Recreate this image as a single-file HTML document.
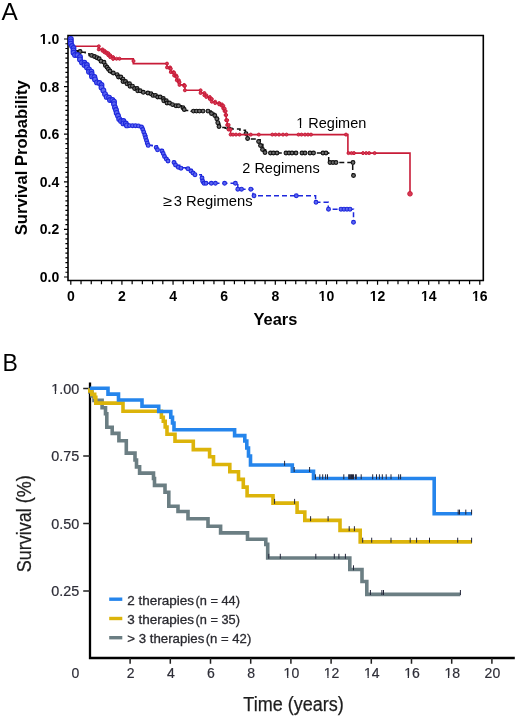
<!DOCTYPE html>
<html><head><meta charset="utf-8"><style>
html,body{margin:0;padding:0;background:#fff;}
svg{display:block;will-change:transform;}
text{font-family:"Liberation Sans",sans-serif;}
</style></head><body>
<svg width="520" height="718" viewBox="0 0 520 718">
<defs><clipPath id="nofoot" clip-rule="evenodd"><path clip-rule="evenodd" d="M0 0 H520 V718 H0 Z M39.82 40.87 H42.99 V45.10 H39.82 Z M44.95 40.87 H47.93 V45.10 H44.95 Z M318.70 297.77 H321.86 V302.00 H318.70 Z M323.82 297.77 H326.81 V302.00 H323.82 Z M369.90 297.77 H373.06 V302.00 H369.90 Z M375.02 297.77 H378.01 V302.00 H375.02 Z M421.00 297.77 H424.16 V302.00 H421.00 Z M426.12 297.77 H429.11 V302.00 H426.12 Z M472.10 297.77 H475.26 V302.00 H472.10 Z M477.22 297.77 H480.21 V302.00 H477.22 Z M296.50 125.62 H299.83 V129.50 H296.50 Z M301.15 125.62 H304.36 V129.50 H301.15 Z M51.47 391.02 H54.77 V394.90 H51.47 Z M56.09 391.02 H59.28 V394.90 H56.09 Z M283.88 675.75 H287.11 V679.60 H283.88 Z M288.39 675.75 H291.52 V679.60 H288.39 Z M324.08 675.75 H327.31 V679.60 H324.08 Z M328.59 675.75 H331.72 V679.60 H328.59 Z M364.28 675.75 H367.51 V679.60 H364.28 Z M368.79 675.75 H371.92 V679.60 H368.79 Z M404.48 675.75 H407.71 V679.60 H404.48 Z M408.99 675.75 H412.12 V679.60 H408.99 Z M444.68 675.75 H447.91 V679.60 H444.68 Z M449.19 675.75 H452.32 V679.60 H449.19 Z"/></clipPath></defs>
<rect width="520" height="718" fill="#fff"/>
<text x="1.6" y="19.8" font-size="23" fill="#000" textLength="16.3" lengthAdjust="spacingAndGlyphs">A</text>
<path d="M68 35.5 H483.3 V280.5 H68 Z" fill="none" stroke="#000" stroke-width="1.6"/>
<path d="M64 277.00 H68 M65.4 272.24 H68 M65.4 267.48 H68 M65.4 262.72 H68 M65.4 257.96 H68 M65.4 253.20 H68 M65.4 248.44 H68 M65.4 243.68 H68 M65.4 238.92 H68 M65.4 234.16 H68 M64 229.40 H68 M65.4 224.64 H68 M65.4 219.88 H68 M65.4 215.12 H68 M65.4 210.36 H68 M65.4 205.60 H68 M65.4 200.84 H68 M65.4 196.08 H68 M65.4 191.32 H68 M65.4 186.56 H68 M64 181.80 H68 M65.4 177.04 H68 M65.4 172.28 H68 M65.4 167.52 H68 M65.4 162.76 H68 M65.4 158.00 H68 M65.4 153.24 H68 M65.4 148.48 H68 M65.4 143.72 H68 M65.4 138.96 H68 M64 134.20 H68 M65.4 129.44 H68 M65.4 124.68 H68 M65.4 119.92 H68 M65.4 115.16 H68 M65.4 110.40 H68 M65.4 105.64 H68 M65.4 100.88 H68 M65.4 96.12 H68 M65.4 91.36 H68 M64 86.60 H68 M65.4 81.84 H68 M65.4 77.08 H68 M65.4 72.32 H68 M65.4 67.56 H68 M65.4 62.80 H68 M65.4 58.04 H68 M65.4 53.28 H68 M65.4 48.52 H68 M65.4 43.76 H68 M64 39.00 H68 M70.80 280.5 V284.8 M81.03 280.5 V284.2 M91.25 280.5 V284.2 M101.47 280.5 V284.2 M111.70 280.5 V284.2 M121.92 280.5 V284.8 M132.15 280.5 V284.2 M142.38 280.5 V284.2 M152.60 280.5 V284.2 M162.82 280.5 V284.2 M173.05 280.5 V284.8 M183.28 280.5 V284.2 M193.50 280.5 V284.2 M203.73 280.5 V284.2 M213.95 280.5 V284.2 M224.18 280.5 V284.8 M234.40 280.5 V284.2 M244.62 280.5 V284.2 M254.85 280.5 V284.2 M265.07 280.5 V284.2 M275.30 280.5 V284.8 M285.53 280.5 V284.2 M295.75 280.5 V284.2 M305.98 280.5 V284.2 M316.20 280.5 V284.2 M326.43 280.5 V284.8 M336.65 280.5 V284.2 M346.88 280.5 V284.2 M357.10 280.5 V284.2 M367.33 280.5 V284.2 M377.55 280.5 V284.8 M387.78 280.5 V284.2 M398.00 280.5 V284.2 M408.23 280.5 V284.2 M418.45 280.5 V284.2 M428.68 280.5 V284.8 M438.90 280.5 V284.2 M449.13 280.5 V284.2 M459.35 280.5 V284.2 M469.58 280.5 V284.2 M479.80 280.5 V284.8" stroke="#000" stroke-width="1.2" fill="none"/>
<text x="59.2" y="281.9" font-size="14" font-weight="bold" text-anchor="end">0.0</text>
<text x="59.2" y="234.3" font-size="14" font-weight="bold" text-anchor="end">0.2</text>
<text x="59.2" y="186.7" font-size="14" font-weight="bold" text-anchor="end">0.4</text>
<text x="59.2" y="139.1" font-size="14" font-weight="bold" text-anchor="end">0.6</text>
<text x="59.2" y="91.5" font-size="14" font-weight="bold" text-anchor="end">0.8</text>
<text x="59.2" y="43.9" font-size="14" font-weight="bold" text-anchor="end" clip-path="url(#nofoot)">1.0</text>
<text x="70.8" y="300.8" font-size="14" font-weight="bold" text-anchor="middle">0</text>
<text x="121.9" y="300.8" font-size="14" font-weight="bold" text-anchor="middle">2</text>
<text x="173.1" y="300.8" font-size="14" font-weight="bold" text-anchor="middle">4</text>
<text x="224.2" y="300.8" font-size="14" font-weight="bold" text-anchor="middle">6</text>
<text x="275.3" y="300.8" font-size="14" font-weight="bold" text-anchor="middle">8</text>
<text x="326.4" y="300.8" font-size="14" font-weight="bold" text-anchor="middle" clip-path="url(#nofoot)">10</text>
<text x="377.6" y="300.8" font-size="14" font-weight="bold" text-anchor="middle" clip-path="url(#nofoot)">12</text>
<text x="428.7" y="300.8" font-size="14" font-weight="bold" text-anchor="middle" clip-path="url(#nofoot)">14</text>
<text x="479.8" y="300.8" font-size="14" font-weight="bold" text-anchor="middle" clip-path="url(#nofoot)">16</text>
<text x="275.4" y="325" font-size="16.4" font-weight="bold" text-anchor="middle">Years</text>
<text transform="translate(26.7 157.75) rotate(-90)" x="0" y="0" font-size="16.6" font-weight="bold" text-anchor="middle">Survival Probability</text>
<text x="296.2" y="128.3" font-size="14.5" clip-path="url(#nofoot)">1 Regimen</text>
<text x="242.3" y="173.2" font-size="14.5">2 Regimens</text>
<text x="163.2" y="205.8" font-size="14.5" textLength="9" lengthAdjust="spacingAndGlyphs">≥</text>
<text x="173.8" y="205.8" font-size="14.5" textLength="78.8" lengthAdjust="spacingAndGlyphs">3 Regimens</text>
<path d="M70.8,39.0 L71.5,39.0 L71.5,44.0 L73.0,44.0 L73.0,48.0 L74.5,48.0 L74.5,50.8 L77.5,50.8 L77.5,51.5 L80.4,51.5 L80.4,52.3 L85.2,52.3 L85.2,53.7 L89.1,53.7 L89.1,55.4 L92.0,55.4 L92.0,56.5 L94.6,56.5 L94.6,57.7 L97.0,57.7 L97.0,58.8 L99.2,58.8 L99.2,60.0 L101.0,60.0 L101.0,61.2 L102.3,61.2 L102.3,62.3 L104.0,62.3 L104.0,63.8 L105.4,63.8 L105.4,65.4 L107.0,65.4 L107.0,67.3 L108.5,67.3 L108.5,69.2 L110.0,69.2 L110.0,71.0 L110.8,71.0 L110.8,73.0 L114.6,73.0 L114.6,74.6 L118.5,74.6 L118.5,77.0 L120.8,77.0 L120.8,79.2 L123.0,79.2 L123.0,81.5 L127.0,81.5 L127.0,83.8 L130.0,83.8 L130.0,86.2 L134.6,86.2 L134.6,88.5 L137.7,88.5 L137.7,90.8 L140.8,90.8 L140.8,92.3 L145.4,92.3 L145.4,93.0 L148.5,93.0 L148.5,93.8 L153.0,93.8 L153.0,95.4 L157.7,95.4 L157.7,97.0 L160.8,97.0 L160.8,98.5 L163.8,98.5 L163.8,100.8 L167.0,100.8 L167.0,103.0 L170.0,103.0 L170.0,104.6 L173.5,104.6 L173.5,105.8 L181.5,105.8 L181.5,107.8 L184.2,107.8 L184.2,110.5 L191.0,110.5 L191.0,111.1 L211.1,111.1 L211.1,113.2 L214.4,113.2 L214.4,114.8 L217.1,114.8 L217.1,118.8 L218.5,118.8 L218.5,123.6 L219.8,123.6 L219.8,127.6 L225.2,127.6 L225.2,128.3 L231.9,128.3 L231.9,128.9 L240.0,128.9 L240.0,130.3 L245.4,130.3 L245.4,133.6 L247.4,133.6 L247.4,139.0 L258.8,139.0 L258.8,139.7 L260.2,139.7 L260.2,144.4 L262.9,144.4 L262.9,149.8 L265.6,149.8 L265.6,153.0 L328.7,153.0 L328.7,162.5 L352.7,162.5 L352.7,175.5" fill="none" stroke="#111" stroke-width="1.5" stroke-dasharray="5 3"/>
<g fill="#6e6e6e" stroke="#111" stroke-width="1.1"><circle cx="80.1" cy="51.5" r="1.9"/><circle cx="91.6" cy="55.4" r="1.9"/><circle cx="94.5" cy="56.5" r="1.9"/><circle cx="97.0" cy="57.7" r="1.9"/><circle cx="99.2" cy="58.8" r="1.9"/><circle cx="101.0" cy="61.2" r="1.9"/><circle cx="104.0" cy="62.3" r="1.9"/><circle cx="105.4" cy="65.4" r="1.9"/><circle cx="107.0" cy="67.3" r="1.9"/><circle cx="108.5" cy="69.2" r="1.9"/><circle cx="110.0" cy="71.0" r="1.9"/><circle cx="113.3" cy="73.0" r="1.9"/><circle cx="117.1" cy="74.6" r="1.9"/><circle cx="118.5" cy="77.0" r="1.9"/><circle cx="120.8" cy="77.0" r="1.9"/><circle cx="123.0" cy="79.2" r="1.9"/><circle cx="123.0" cy="81.5" r="1.9"/><circle cx="125.5" cy="81.5" r="1.9"/><circle cx="127.0" cy="83.8" r="1.9"/><circle cx="129.5" cy="83.8" r="1.9"/><circle cx="130.0" cy="86.2" r="1.9"/><circle cx="132.5" cy="86.2" r="1.9"/><circle cx="134.6" cy="88.5" r="1.9"/><circle cx="137.1" cy="88.5" r="1.9"/><circle cx="137.7" cy="90.8" r="1.9"/><circle cx="140.2" cy="90.8" r="1.9"/><circle cx="143.3" cy="92.3" r="1.9"/><circle cx="147.9" cy="93.0" r="1.9"/><circle cx="151.0" cy="93.8" r="1.9"/><circle cx="153.0" cy="95.4" r="1.9"/><circle cx="155.5" cy="95.4" r="1.9"/><circle cx="157.7" cy="97.0" r="1.9"/><circle cx="160.2" cy="97.0" r="1.9"/><circle cx="163.3" cy="98.5" r="1.9"/><circle cx="163.8" cy="100.8" r="1.9"/><circle cx="166.3" cy="100.8" r="1.9"/><circle cx="167.0" cy="103.0" r="1.9"/><circle cx="169.5" cy="103.0" r="1.9"/><circle cx="172.5" cy="104.6" r="1.9"/><circle cx="176.0" cy="105.8" r="1.9"/><circle cx="178.5" cy="105.8" r="1.9"/><circle cx="183.0" cy="107.8" r="1.9"/><circle cx="184.2" cy="109.5" r="1.9"/><circle cx="193.5" cy="111.1" r="1.9"/><circle cx="196.5" cy="111.1" r="1.9"/><circle cx="199.5" cy="111.1" r="1.9"/><circle cx="203.0" cy="111.1" r="1.9"/><circle cx="208.0" cy="111.1" r="1.9"/><circle cx="211.5" cy="113.5" r="1.9"/><circle cx="214.8" cy="115.5" r="1.9"/><circle cx="216.8" cy="118.8" r="1.9"/><circle cx="217.8" cy="122.7" r="1.9"/><circle cx="219.0" cy="126.5" r="1.9"/><circle cx="228.8" cy="128.6" r="1.9"/><circle cx="246.0" cy="133.6" r="1.9"/><circle cx="247.6" cy="138.5" r="1.9"/><circle cx="258.6" cy="141.5" r="1.9"/><circle cx="260.5" cy="145.5" r="1.9"/><circle cx="262.5" cy="149.5" r="1.9"/><circle cx="265.0" cy="152.5" r="1.9"/><circle cx="270.5" cy="153.0" r="1.9"/><circle cx="273.5" cy="153.0" r="1.9"/><circle cx="277.0" cy="153.0" r="1.9"/><circle cx="286.0" cy="153.0" r="1.9"/><circle cx="289.0" cy="153.0" r="1.9"/><circle cx="292.0" cy="153.0" r="1.9"/><circle cx="296.0" cy="153.0" r="1.9"/><circle cx="302.0" cy="153.0" r="1.9"/><circle cx="305.0" cy="153.0" r="1.9"/><circle cx="310.0" cy="153.0" r="1.9"/><circle cx="313.5" cy="153.0" r="1.9"/><circle cx="323.0" cy="153.0" r="1.9"/><circle cx="326.0" cy="153.0" r="1.9"/><circle cx="330.0" cy="162.5" r="1.9"/><circle cx="333.0" cy="162.5" r="1.9"/><circle cx="336.0" cy="162.5" r="1.9"/><circle cx="353.0" cy="162.5" r="1.9"/><circle cx="353.5" cy="175.5" r="1.9"/></g>
<path d="M70.8,39.0 L72.5,39.0 L72.5,46.3 L98.8,46.3 L98.8,49.4 L102.5,49.4 L102.5,50.8 L104.5,50.8 L104.5,52.3 L106.4,52.3 L106.4,53.2 L108.3,53.2 L108.3,55.2 L110.2,55.2 L110.2,57.1 L113.1,57.1 L113.1,58.9 L133.3,58.9 L133.3,63.6 L167.0,63.6 L167.0,67.4 L170.1,67.4 L170.1,68.7 L170.8,68.7 L170.8,72.1 L173.5,72.1 L173.5,72.8 L174.1,72.8 L174.1,75.5 L176.2,75.5 L176.2,76.8 L176.8,76.8 L176.8,80.2 L178.8,80.2 L178.8,82.2 L179.5,82.2 L179.5,84.9 L184.2,84.9 L184.2,85.8 L184.9,85.8 L184.9,90.3 L200.6,90.3 L200.6,93.0 L204.4,93.0 L204.4,95.3 L206.4,95.3 L206.4,97.0 L209.8,97.0 L209.8,99.0 L211.8,99.0 L211.8,101.7 L215.2,101.7 L215.2,103.1 L219.2,103.1 L219.2,104.4 L221.9,104.4 L221.9,105.8 L223.3,105.8 L223.3,108.5 L224.6,108.5 L224.6,111.1 L225.6,111.1 L225.6,115.0 L226.2,115.0 L226.2,120.2 L227.2,120.2 L227.2,124.9 L228.6,124.9 L228.6,129.6 L230.6,129.6 L230.6,134.6 L347.9,134.6 L347.9,153.1 L410.0,153.1 L410.0,193.8" fill="none" stroke="#c81c38" stroke-width="1.6"/>
<g fill="#d83a56" stroke="#c81c38" stroke-width="1.0"><circle cx="98.8" cy="46.3" r="1.5"/><circle cx="98.8" cy="49.4" r="1.5"/><circle cx="102.5" cy="49.4" r="1.5"/><circle cx="102.5" cy="50.8" r="1.5"/><circle cx="104.5" cy="50.8" r="1.5"/><circle cx="104.5" cy="52.3" r="1.5"/><circle cx="106.4" cy="52.3" r="1.5"/><circle cx="106.4" cy="53.2" r="1.5"/><circle cx="108.3" cy="53.2" r="1.5"/><circle cx="108.3" cy="55.2" r="1.5"/><circle cx="110.2" cy="55.2" r="1.5"/><circle cx="110.2" cy="57.1" r="1.5"/><circle cx="113.1" cy="57.1" r="1.5"/><circle cx="113.1" cy="58.9" r="1.5"/><circle cx="116.5" cy="58.7" r="1.5"/><circle cx="119.5" cy="58.7" r="1.5"/><circle cx="133.5" cy="61.0" r="1.5"/><circle cx="167.0" cy="63.6" r="1.5"/><circle cx="167.0" cy="67.4" r="1.5"/><circle cx="170.1" cy="67.4" r="1.5"/><circle cx="170.1" cy="68.7" r="1.5"/><circle cx="170.8" cy="68.7" r="1.5"/><circle cx="170.8" cy="72.1" r="1.5"/><circle cx="173.5" cy="72.1" r="1.5"/><circle cx="173.5" cy="72.8" r="1.5"/><circle cx="174.1" cy="72.8" r="1.5"/><circle cx="174.1" cy="75.5" r="1.5"/><circle cx="176.2" cy="75.5" r="1.5"/><circle cx="176.2" cy="76.8" r="1.5"/><circle cx="176.8" cy="76.8" r="1.5"/><circle cx="176.8" cy="80.2" r="1.5"/><circle cx="178.8" cy="80.2" r="1.5"/><circle cx="178.8" cy="82.2" r="1.5"/><circle cx="179.5" cy="82.2" r="1.5"/><circle cx="179.5" cy="84.9" r="1.5"/><circle cx="184.2" cy="84.9" r="1.5"/><circle cx="184.2" cy="85.8" r="1.5"/><circle cx="184.9" cy="85.8" r="1.5"/><circle cx="184.9" cy="90.3" r="1.5"/><circle cx="200.6" cy="90.3" r="1.5"/><circle cx="200.6" cy="93.0" r="1.5"/><circle cx="204.4" cy="93.0" r="1.5"/><circle cx="204.4" cy="95.3" r="1.5"/><circle cx="206.4" cy="95.3" r="1.5"/><circle cx="206.4" cy="97.0" r="1.5"/><circle cx="209.8" cy="97.0" r="1.5"/><circle cx="209.8" cy="99.0" r="1.5"/><circle cx="211.8" cy="99.0" r="1.5"/><circle cx="211.8" cy="101.7" r="1.5"/><circle cx="215.2" cy="101.7" r="1.5"/><circle cx="215.2" cy="103.1" r="1.5"/><circle cx="219.2" cy="103.1" r="1.5"/><circle cx="219.2" cy="104.4" r="1.5"/><circle cx="221.9" cy="104.4" r="1.5"/><circle cx="221.9" cy="105.8" r="1.5"/><circle cx="223.3" cy="105.8" r="1.5"/><circle cx="223.3" cy="108.5" r="1.5"/><circle cx="224.6" cy="108.5" r="1.5"/><circle cx="224.6" cy="111.1" r="1.5"/><circle cx="225.6" cy="111.1" r="1.5"/><circle cx="225.6" cy="115.0" r="1.5"/><circle cx="226.2" cy="115.0" r="1.5"/><circle cx="226.2" cy="120.2" r="1.5"/><circle cx="227.2" cy="120.2" r="1.5"/><circle cx="227.2" cy="124.9" r="1.5"/><circle cx="228.6" cy="124.9" r="1.5"/><circle cx="228.6" cy="129.6" r="1.5"/><circle cx="230.6" cy="129.6" r="1.5"/><circle cx="230.6" cy="134.6" r="1.5"/><circle cx="233.0" cy="134.6" r="1.5"/><circle cx="236.0" cy="134.6" r="1.5"/><circle cx="239.5" cy="134.6" r="1.5"/><circle cx="250.8" cy="134.6" r="1.5"/><circle cx="258.8" cy="134.6" r="1.5"/><circle cx="272.3" cy="134.6" r="1.5"/><circle cx="275.5" cy="134.6" r="1.5"/><circle cx="279.0" cy="134.6" r="1.5"/><circle cx="283.0" cy="134.6" r="1.5"/><circle cx="286.5" cy="134.6" r="1.5"/><circle cx="298.5" cy="134.6" r="1.5"/><circle cx="301.5" cy="134.6" r="1.5"/><circle cx="305.0" cy="134.6" r="1.5"/><circle cx="308.0" cy="134.6" r="1.5"/><circle cx="311.0" cy="134.6" r="1.5"/><circle cx="346.0" cy="134.6" r="1.5"/><circle cx="348.5" cy="153.1" r="1.5"/><circle cx="351.5" cy="153.1" r="1.5"/><circle cx="354.0" cy="153.1" r="1.5"/><circle cx="363.0" cy="153.1" r="1.5"/><circle cx="366.2" cy="153.1" r="1.5"/><circle cx="369.2" cy="153.1" r="1.5"/><circle cx="374.6" cy="153.1" r="1.5"/><circle cx="410" cy="193.8" r="2.3"/></g>
<path d="M70.8,39.0 L70.8,43.6 L72.0,43.6 L72.0,48.0 L73.5,48.0 L73.5,53.2 L75.0,53.2 L75.0,55.0 L78.0,55.0 L78.0,57.0 L80.0,57.0 L80.0,60.0 L82.0,60.0 L82.0,62.8 L84.5,62.8 L84.5,65.0 L87.0,65.0 L87.0,69.4 L89.0,69.4 L89.0,71.7 L91.7,71.7 L91.7,74.0 L92.0,74.0 L92.0,77.0 L95.0,77.0 L95.0,80.0 L97.0,80.0 L97.0,83.0 L100.0,83.0 L100.0,85.0 L101.5,85.0 L101.5,88.0 L103.4,88.0 L103.4,91.7 L105.0,91.7 L105.0,94.5 L106.7,94.5 L106.7,97.6 L110.0,97.6 L110.0,100.0 L112.6,100.0 L112.6,101.7 L114.0,101.7 L114.0,105.0 L115.0,105.0 L115.0,107.6 L116.0,107.6 L116.0,110.5 L116.7,110.5 L116.7,113.4 L118.0,113.4 L118.0,116.5 L119.2,116.5 L119.2,119.3 L121.0,119.3 L121.0,121.0 L123.4,121.0 L123.4,123.5 L126.9,123.5 L126.9,125.4 L137.3,125.4 L137.3,125.7 L142.5,125.7 L142.5,127.1 L143.4,127.1 L143.4,130.6 L145.1,130.6 L145.1,135.8 L146.8,135.8 L146.8,141.0 L147.7,141.0 L147.7,145.3 L152.0,145.3 L152.0,145.8 L156.3,145.8 L156.3,146.1 L157.2,146.1 L157.2,149.6 L161.5,149.6 L161.5,150.5 L162.4,150.5 L162.4,154.8 L165.0,154.8 L165.0,158.3 L167.6,158.3 L167.6,160.8 L173.6,160.8 L173.6,161.7 L175.4,161.7 L175.4,165.2 L179.7,165.2 L179.7,167.8 L185.7,167.8 L185.7,168.6 L189.2,168.6 L189.2,169.5 L191.8,169.5 L191.8,172.1 L194.4,172.1 L194.4,174.7 L201.3,174.7 L201.3,179.0 L202.2,179.0 L202.2,183.3 L237.8,183.3 L237.8,189.2 L253.0,189.2 L253.0,195.8 L315.6,195.8 L315.6,202.3 L328.3,202.3 L328.3,209.2 L353.5,209.2 L353.5,222.3" fill="none" stroke="#1e28dc" stroke-width="1.5" stroke-dasharray="5 3"/>
<g fill="#5c66f0" stroke="#1e28dc" stroke-width="1.1"><circle cx="70.8" cy="39.0" r="2.4"/><circle cx="70.8" cy="41.4" r="2.4"/><circle cx="70.8" cy="43.6" r="2.4"/><circle cx="72.0" cy="46.0" r="2.4"/><circle cx="73.5" cy="48.0" r="2.4"/><circle cx="73.5" cy="50.4" r="2.4"/><circle cx="73.5" cy="52.8" r="2.4"/><circle cx="75.0" cy="55.0" r="2.4"/><circle cx="77.4" cy="55.0" r="2.4"/><circle cx="80.0" cy="57.0" r="2.4"/><circle cx="80.0" cy="59.4" r="2.4"/><circle cx="82.0" cy="62.4" r="2.4"/><circle cx="84.4" cy="62.8" r="2.4"/><circle cx="84.5" cy="65.0" r="2.4"/><circle cx="86.9" cy="65.0" r="2.4"/><circle cx="87.0" cy="67.4" r="2.4"/><circle cx="89.0" cy="69.4" r="2.4"/><circle cx="89.0" cy="71.7" r="2.4"/><circle cx="91.4" cy="71.7" r="2.4"/><circle cx="91.7" cy="74.0" r="2.4"/><circle cx="92.0" cy="76.4" r="2.4"/><circle cx="94.4" cy="77.0" r="2.4"/><circle cx="95.0" cy="79.4" r="2.4"/><circle cx="97.0" cy="82.4" r="2.4"/><circle cx="99.4" cy="83.0" r="2.4"/><circle cx="101.5" cy="85.0" r="2.4"/><circle cx="101.5" cy="87.4" r="2.4"/><circle cx="103.4" cy="90.4" r="2.4"/><circle cx="105.0" cy="94.1" r="2.4"/><circle cx="106.7" cy="96.9" r="2.4"/><circle cx="109.1" cy="97.6" r="2.4"/><circle cx="110.0" cy="100.0" r="2.4"/><circle cx="112.4" cy="100.0" r="2.4"/><circle cx="114.0" cy="101.7" r="2.4"/><circle cx="114.0" cy="104.1" r="2.4"/><circle cx="115.0" cy="107.4" r="2.4"/><circle cx="116.0" cy="110.0" r="2.4"/><circle cx="116.7" cy="112.9" r="2.4"/><circle cx="118.0" cy="115.8" r="2.4"/><circle cx="119.2" cy="118.9" r="2.4"/><circle cx="121.0" cy="121.0" r="2.4"/><circle cx="123.4" cy="121.0" r="2.4"/><circle cx="123.4" cy="123.4" r="2.4"/><circle cx="125.8" cy="123.5" r="2.4"/><circle cx="126.9" cy="125.4" r="2.4"/><circle cx="129.5" cy="125.6" r="1.9"/><circle cx="132.5" cy="125.7" r="1.9"/><circle cx="135.5" cy="125.7" r="1.9"/><circle cx="138.5" cy="125.9" r="1.9"/><circle cx="141.5" cy="127.0" r="1.9"/><circle cx="142.8" cy="129.5" r="1.9"/><circle cx="143.8" cy="132.2" r="1.9"/><circle cx="144.8" cy="135.0" r="1.9"/><circle cx="145.6" cy="137.8" r="1.9"/><circle cx="146.5" cy="140.5" r="1.9"/><circle cx="147.3" cy="143.2" r="1.9"/><circle cx="148.2" cy="145.4" r="1.9"/><circle cx="156.2" cy="147.5" r="1.9"/><circle cx="157.5" cy="149.8" r="1.9"/><circle cx="162.0" cy="151.0" r="1.9"/><circle cx="163.2" cy="153.5" r="1.9"/><circle cx="164.5" cy="156.5" r="1.9"/><circle cx="166.3" cy="159.0" r="1.9"/><circle cx="168.0" cy="161.0" r="1.9"/><circle cx="174.0" cy="162.5" r="1.9"/><circle cx="175.5" cy="165.0" r="1.9"/><circle cx="178.3" cy="167.2" r="1.9"/><circle cx="181.0" cy="168.2" r="1.9"/><circle cx="188.0" cy="168.8" r="1.9"/><circle cx="191.0" cy="171.0" r="1.9"/><circle cx="193.0" cy="173.0" r="1.9"/><circle cx="195.0" cy="174.7" r="1.9"/><circle cx="202.0" cy="178.0" r="1.9"/><circle cx="202.6" cy="181.0" r="1.9"/><circle cx="204.0" cy="183.3" r="1.9"/><circle cx="206.0" cy="183.3" r="1.9"/><circle cx="211.3" cy="183.3" r="1.9"/><circle cx="215.4" cy="183.3" r="1.9"/><circle cx="224.6" cy="183.3" r="1.9"/><circle cx="235.4" cy="183.3" r="1.9"/><circle cx="237.8" cy="189.2" r="1.9"/><circle cx="241.5" cy="189.2" r="1.9"/><circle cx="250.8" cy="189.2" r="1.9"/><circle cx="254.0" cy="195.8" r="1.9"/><circle cx="296.3" cy="195.8" r="1.9"/><circle cx="316.0" cy="202.3" r="1.9"/><circle cx="328.5" cy="209.2" r="1.9"/><circle cx="341.0" cy="209.2" r="1.9"/><circle cx="344.0" cy="209.2" r="1.9"/><circle cx="347.0" cy="209.2" r="1.9"/><circle cx="350.0" cy="209.2" r="1.9"/><circle cx="353.5" cy="222.3" r="1.9"/></g>
<text x="2.6" y="370.8" font-size="23" fill="#000">B</text>
<path d="M90 382.6 V658 H514.8" fill="none" stroke="#000" stroke-width="2.3"/>
<path d="M83.2 591.08 H90 M83.2 523.55 H90 M83.2 456.02 H90 M83.2 388.50 H90 M130.10 658 V663.7 M170.30 658 V663.7 M210.50 658 V663.7 M250.70 658 V663.7 M290.90 658 V663.7 M331.10 658 V663.7 M371.30 658 V663.7 M411.50 658 V663.7 M451.70 658 V663.7 M491.90 658 V663.7" stroke="#222" stroke-width="1.5" fill="none"/>
<text x="79.2" y="393.7" font-size="14.4" fill="#2e2e38" stroke="#2e2e38" stroke-width="0.2" text-anchor="end" clip-path="url(#nofoot)">1.00</text>
<text x="79.2" y="461.2" font-size="14.4" fill="#2e2e38" stroke="#2e2e38" stroke-width="0.2" text-anchor="end">0.75</text>
<text x="79.2" y="528.8" font-size="14.4" fill="#2e2e38" stroke="#2e2e38" stroke-width="0.2" text-anchor="end">0.50</text>
<text x="79.2" y="596.3" font-size="14.4" fill="#2e2e38" stroke="#2e2e38" stroke-width="0.2" text-anchor="end">0.25</text>
<text x="75.4" y="678.4" font-size="14" fill="#2e2e38" stroke="#2e2e38" stroke-width="0.2" text-anchor="middle">0</text>
<text x="130.6" y="678.4" font-size="14" fill="#2e2e38" stroke="#2e2e38" stroke-width="0.2" text-anchor="middle">2</text>
<text x="170.8" y="678.4" font-size="14" fill="#2e2e38" stroke="#2e2e38" stroke-width="0.2" text-anchor="middle">4</text>
<text x="211.0" y="678.4" font-size="14" fill="#2e2e38" stroke="#2e2e38" stroke-width="0.2" text-anchor="middle">6</text>
<text x="251.2" y="678.4" font-size="14" fill="#2e2e38" stroke="#2e2e38" stroke-width="0.2" text-anchor="middle">8</text>
<text x="291.4" y="678.4" font-size="14" fill="#2e2e38" stroke="#2e2e38" stroke-width="0.2" text-anchor="middle" clip-path="url(#nofoot)">10</text>
<text x="331.6" y="678.4" font-size="14" fill="#2e2e38" stroke="#2e2e38" stroke-width="0.2" text-anchor="middle" clip-path="url(#nofoot)">12</text>
<text x="371.8" y="678.4" font-size="14" fill="#2e2e38" stroke="#2e2e38" stroke-width="0.2" text-anchor="middle" clip-path="url(#nofoot)">14</text>
<text x="412.0" y="678.4" font-size="14" fill="#2e2e38" stroke="#2e2e38" stroke-width="0.2" text-anchor="middle" clip-path="url(#nofoot)">16</text>
<text x="452.2" y="678.4" font-size="14" fill="#2e2e38" stroke="#2e2e38" stroke-width="0.2" text-anchor="middle" clip-path="url(#nofoot)">18</text>
<text x="492.4" y="678.4" font-size="14" fill="#2e2e38" stroke="#2e2e38" stroke-width="0.2" text-anchor="middle">20</text>
<text x="243.3" y="711.3" font-size="20" fill="#1e1e1e" stroke="#1e1e1e" stroke-width="0.25" textLength="100.5" lengthAdjust="spacingAndGlyphs">Time (years)</text>
<text transform="translate(31.2 572.2) rotate(-90)" x="0" y="0" font-size="20" fill="#1e1e1e" stroke="#1e1e1e" stroke-width="0.25" textLength="97" lengthAdjust="spacingAndGlyphs">Survival (%)</text>
<path d="M89.8,388.3 L89.8,392.0 L92.0,392.0 L92.0,396.0 L94.0,396.0 L94.0,400.4 L102.1,400.4 L102.1,407.8 L105.5,407.8 L105.5,413.8 L106.8,413.8 L106.8,427.3 L112.2,427.3 L112.2,433.4 L118.9,433.4 L118.9,440.8 L126.3,440.8 L126.3,453.1 L135.0,453.1 L135.0,460.0 L136.5,460.0 L136.5,466.9 L139.6,466.9 L139.6,473.1 L153.5,473.1 L153.5,478.5 L154.5,478.5 L154.5,485.4 L165.0,485.4 L165.0,492.3 L168.8,492.3 L168.8,506.2 L178.0,506.2 L178.0,511.5 L188.0,511.5 L188.0,518.7 L208.0,518.7 L208.0,526.2 L220.6,526.2 L220.6,532.9 L247.5,532.9 L247.5,539.2 L265.8,539.2 L265.8,544.4 L267.7,544.4 L267.7,558.0 L349.8,558.0 L349.8,569.5 L362.0,569.5 L362.0,581.5 L366.8,581.5 L366.8,594.4 L460.4,594.4" fill="none" stroke="#6b7e83" stroke-width="3.6" stroke-linejoin="miter"/>
<path d="M89.8,388.3 L89.8,391.0 L91.8,391.0 L91.8,394.4 L94.7,394.4 L94.7,397.3 L95.8,397.3 L95.8,403.1 L123.0,403.1 L123.0,411.2 L161.4,411.2 L161.4,417.3 L163.3,417.3 L163.3,421.2 L165.2,421.2 L165.2,427.0 L167.0,427.0 L167.0,434.2 L175.0,434.2 L175.0,441.3 L193.3,441.3 L193.3,449.6 L209.6,449.6 L209.6,456.7 L213.5,456.7 L213.5,464.5 L229.8,464.5 L229.8,471.7 L238.5,471.7 L238.5,479.4 L243.3,479.4 L243.3,487.1 L247.1,487.1 L247.1,495.8 L273.0,495.8 L273.0,503.1 L297.1,503.1 L297.1,512.1 L304.8,512.1 L304.8,520.4 L340.0,520.4 L340.0,530.4 L360.2,530.4 L360.2,541.9 L472.0,541.9" fill="none" stroke="#dcb40a" stroke-width="3.6" stroke-linejoin="miter"/>
<path d="M89.8,388.3 L108.0,388.3 L108.0,394.1 L118.5,394.1 L118.5,400.0 L142.0,400.0 L142.0,406.3 L158.7,406.3 L158.7,411.5 L170.8,411.5 L170.8,417.3 L172.5,417.3 L172.5,423.0 L174.0,423.0 L174.0,429.8 L234.6,429.8 L234.6,435.6 L244.8,435.6 L244.8,441.0 L246.8,441.0 L246.8,448.0 L248.5,448.0 L248.5,456.0 L250.5,456.0 L250.5,465.0 L292.3,465.0 L292.3,471.2 L313.5,471.2 L313.5,478.5 L434.2,478.5 L434.2,513.8 L472.0,513.8" fill="none" stroke="#2585ec" stroke-width="3.6" stroke-linejoin="miter"/>
<path d="M284.6 460.8 V465.8 M294.2 467.0 V472.0 M309.6 467.0 V472.0 M315.4 474.3 V479.3 M319.8 474.3 V479.3 M322.7 474.3 V479.3 M325.6 474.3 V479.3 M327.5 474.3 V479.3 M343.8 474.3 V479.3 M348.7 474.3 V479.3 M349.6 474.3 V479.3 M350.6 474.3 V479.3 M351.5 474.3 V479.3 M352.5 474.3 V479.3 M353.5 474.3 V479.3 M355.4 474.3 V479.3 M356.3 474.3 V479.3 M361.2 474.3 V479.3 M372.7 474.3 V479.3 M376.5 474.3 V479.3 M379.4 474.3 V479.3 M382.3 474.3 V479.3 M386.2 474.3 V479.3 M391.0 474.3 V479.3 M398.7 474.3 V479.3 M400.6 474.3 V479.3 M458.2 509.6 V514.6 M459.5 509.6 V514.6 M465.8 509.6 V514.6 M471.6 509.6 V514.6 M274.6 498.9 V503.9 M294.6 498.9 V503.9 M310.6 516.2 V521.2 M328.1 516.2 V521.2 M349.2 526.2 V531.2 M354.4 526.2 V531.2 M362.7 537.7 V542.7 M371.7 537.7 V542.7 M391.0 537.7 V542.7 M410.2 537.7 V542.7 M416.6 537.7 V542.7 M429.5 537.7 V542.7 M457.7 537.7 V542.7 M471.6 537.7 V542.7 M268.8 553.8 V558.8 M280.3 553.8 V558.8 M315.8 553.8 V558.8 M334.3 553.8 V558.8 M338.9 553.8 V558.8 M345.4 553.8 V558.8 M353.5 565.3 V570.3 M370.4 590.0 V595.0 M381.9 590.0 V595.0 M383.5 590.0 V595.0 M460.4 590.0 V595.0" stroke="#23263a" stroke-width="1" fill="none"/>
<path d="M109.2 599.2 H122.3" stroke="#2585ec" stroke-width="3.4"/>
<text x="127.3" y="604.5" font-size="13" fill="#2a2a30" stroke="#2a2a30" stroke-width="0.3" textLength="66.8" lengthAdjust="spacingAndGlyphs">2 therapies</text>
<text x="195.6" y="604.5" font-size="13" fill="#2a2a30" stroke="#2a2a30" stroke-width="0.3" textLength="44.4" lengthAdjust="spacingAndGlyphs">(n = 44)</text>
<path d="M109.2 618.5 H122.3" stroke="#dcb40a" stroke-width="3.4"/>
<text x="127.3" y="623.8" font-size="13" fill="#2a2a30" stroke="#2a2a30" stroke-width="0.3" textLength="66.8" lengthAdjust="spacingAndGlyphs">3 therapies</text>
<text x="195.6" y="623.8" font-size="13" fill="#2a2a30" stroke="#2a2a30" stroke-width="0.3" textLength="44.4" lengthAdjust="spacingAndGlyphs">(n = 35)</text>
<path d="M109.2 637.7 H122.3" stroke="#6b7e83" stroke-width="3.4"/>
<text x="127.3" y="643.0" font-size="13" fill="#2a2a30" stroke="#2a2a30" stroke-width="0.3" textLength="77" lengthAdjust="spacingAndGlyphs">&gt; 3 therapies</text>
<text x="205.7" y="643.0" font-size="13" fill="#2a2a30" stroke="#2a2a30" stroke-width="0.3" textLength="45.6" lengthAdjust="spacingAndGlyphs">(n = 42)</text>
</svg>
</body></html>
